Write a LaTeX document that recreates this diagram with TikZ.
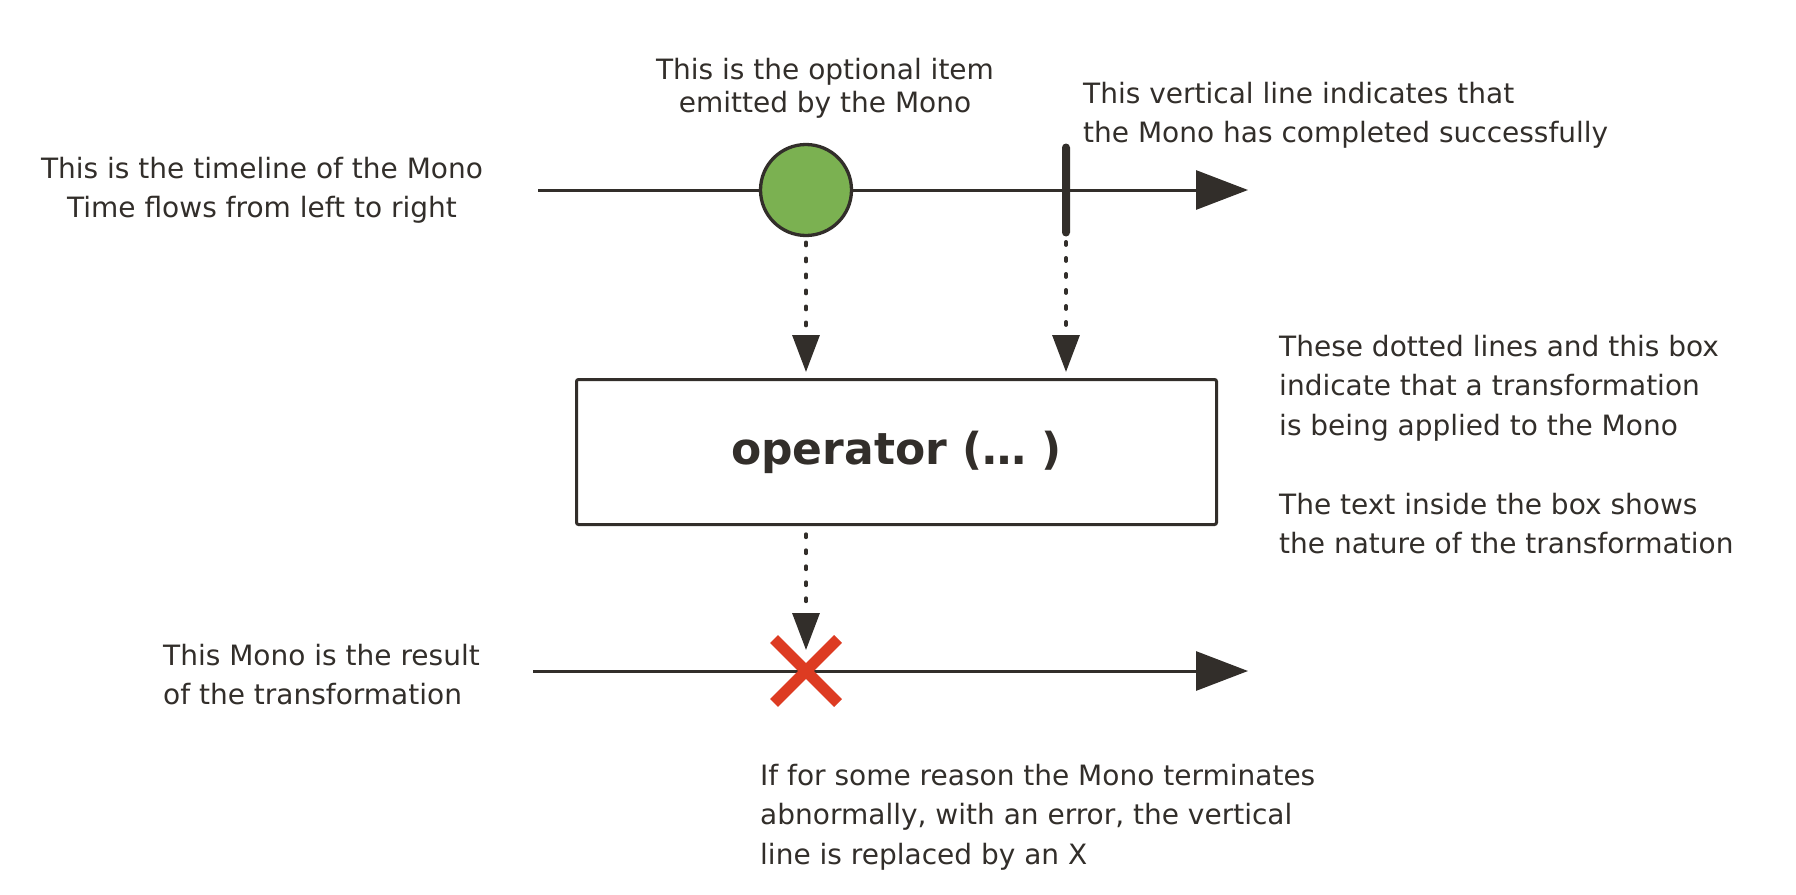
\documentclass[tikz,border=0pt]{standalone}
\usepackage{fontspec}
\setmainfont{DejaVu Sans}
\usetikzlibrary{arrows.meta,calc}

\definecolor{ink}{RGB}{50,46,42}
\definecolor{itemgreen}{RGB}{123,177,81}
\definecolor{errred}{RGB}{221,59,34}

\begin{document}
\begin{tikzpicture}[
    x=1pt, y=-1pt,
    timeline/.style={draw=ink, line width=3pt, -{Triangle[length=52pt, width=39pt]}},
    flow/.style={draw=ink, line width=3.3pt, line cap=round, dash pattern=on 3.5pt off 12.5pt, -{Triangle[length=37pt, width=27pt]}},
    item/.style={circle, draw=ink, line width=3.3pt, fill=itemgreen, minimum size=91pt, inner sep=0pt},
    donebar/.style={fill=ink, rounded corners=4pt, minimum width=8pt, minimum height=93pt, inner sep=0pt},
    opbox/.style={draw=ink, line width=3pt, rounded corners=2pt, minimum width=640pt, minimum height=145pt, text=ink, font=\fontsize{44}{50}\selectfont\bfseries},
    errx/.style={draw=errred, line width=11pt},
    note/.style={inner sep=0pt, text=ink, font=\fontsize{28}{39.5}\selectfont},
]

% Page size
\useasboundingbox (0,0) rectangle (1796,894);

% Timelines
\coordinate (srcstart) at (538,190);
\coordinate (srcend) at (1248,190);
\coordinate (resstart) at (533,671);
\coordinate (resend) at (1248,671);
\coordinate (err) at (806,671);
\coordinate (errtop) at (806,650);

\draw[timeline] (srcstart) -- (srcend);
\draw[timeline] (resstart) -- (resend);

% Item, completion and operator
\node[item] (item) at (806,190) {};
\node[donebar] (done) at (1066,190) {};
\node[opbox] (op) at (896.5,452) {operator (… )};

% Dotted lines into the box
\draw[flow, shorten <=5pt, shorten >=6pt] (item.south) -- (item.south |- op.north);
\draw[flow, shorten <=5pt, shorten >=6pt] (done.south) -- (done.south |- op.north);

% Error on the result
\draw[errx] (err) +(-32,-32) -- +(32,32) (err) +(-32,32) -- +(32,-32);
\draw[flow, shorten <=8pt] (op.south -| err) -- (errtop);

% Notes
\node[note, align=center, anchor=north] (timelinenote) at (262,157)
    {This is the timeline of the Mono\\Time flows from left to right};
\node[note, align=center, anchor=north, font=\fontsize{28}{33}\selectfont] (itemnote) at (825,58)
    {This is the optional item\\emitted by the Mono};
\node[note, align=left, anchor=north west] (donenote) at (1083,82)
    {This vertical line indicates that\\the Mono has completed successfully};
\node[note, align=left, anchor=north west] (opnote) at (1279,335)
    {These dotted lines and this box\\indicate that a transformation\\is being applied to the Mono\\[39.5pt]The text inside the box shows\\the nature of the transformation};
\node[note, align=left, anchor=north west] (resnote) at (163,644)
    {This Mono is the result\\of the transformation};
\node[note, align=left, anchor=north west] (errnote) at (760,764)
    {If for some reason the Mono terminates\\abnormally, with an error, the vertical\\line is replaced by an X};

\end{tikzpicture}
\end{document}
